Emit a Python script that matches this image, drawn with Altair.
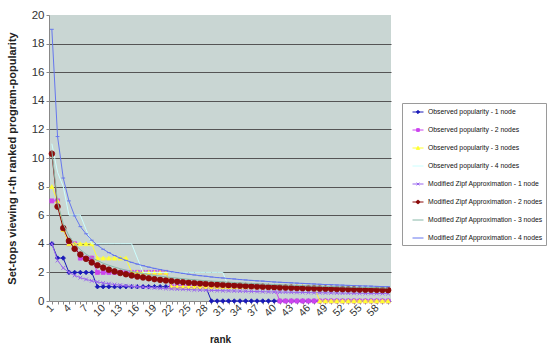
import altair as alt
import pandas as pd

ranks = list(range(1, 61))

obs_1 = [4, 3, 3, 2, 2, 2, 2, 2, 1, 1, 1, 1, 1, 1, 1, 1, 1, 1, 1, 1,
         1, 1, 1, 1, 1, 1, 1, 1, 0, 0, 0, 0, 0, 0, 0, 0, 0, 0, 0, 0,
         0, 0, 0, 0, 0, 0, 0, 0, 0, 0, 0, 0, 0, 0, 0, 0, 0, 0, 0, 0]
obs_2 = [7, 7, 5, 4, 4, 3, 3, 3, 2, 2, 2, 2, 2, 2, 2, 2, 2, 2, 2, 2,
         2, 1, 1, 1, 1, 1, 1, 1, 1, 1, 1, 1, 1, 1, 1, 1, 1, 1, 1, 1,
         0, 0, 0, 0, 0, 0, 0, 0, 0, 0, 0, 0, 0, 0, 0, 0, 0, 0, 0, 0]
obs_3 = [8, 7, 5, 4, 4, 4, 4, 4, 3, 3, 3, 3, 3, 3, 2, 2, 2, 2, 2, 2,
         2, 1, 1, 1, 1, 1, 1, 1, 1, 1, 1, 1, 1, 1, 1, 1, 1, 1, 1, 1,
         1, 1, 1, 1, 1, 1, 1, 0, 0, 0, 0, 0, 0, 0, 0, 0, 0, 0, 0, 0]
obs_4 = [11, 9, 8, 6, 6, 6, 5, 4, 4, 4, 4, 4, 4, 4, 4, 3, 2, 2, 2, 2,
         2, 2, 2, 2, 2, 2, 2, 2, 2, 2, 2, 1, 1, 1, 1, 1, 1, 1, 1, 1,
         1, 1, 1, 1, 1, 1, 1, 1, 1, 1, 1, 1, 1, 1, 1, 1, 1, 1, 1, 1]
zipf_1 = [4.0, 2.83, 2.31, 2.0, 1.79, 1.63, 1.51, 1.41, 1.33, 1.26,
          1.21, 1.15, 1.11, 1.07, 1.03, 1.0, 0.97, 0.94, 0.92, 0.89,
          0.87, 0.85, 0.83, 0.82, 0.8, 0.78, 0.77, 0.76, 0.74, 0.73,
          0.72, 0.71, 0.7, 0.69, 0.68, 0.67, 0.66, 0.65, 0.64, 0.63,
          0.62, 0.62, 0.61, 0.6, 0.6, 0.59, 0.58, 0.58, 0.57, 0.57,
          0.56, 0.55, 0.55, 0.54, 0.54, 0.53, 0.53, 0.53, 0.52, 0.52]
zipf_2 = [10.3, 6.6, 5.1, 4.2, 3.65, 3.25, 2.95, 2.7, 2.5, 2.33,
          2.19, 2.07, 1.96, 1.87, 1.79, 1.71, 1.65, 1.59, 1.53, 1.48,
          1.44, 1.4, 1.36, 1.32, 1.29, 1.26, 1.23, 1.2, 1.17, 1.15,
          1.13, 1.11, 1.09, 1.07, 1.05, 1.03, 1.01, 1.0, 0.98, 0.97,
          0.95, 0.94, 0.93, 0.91, 0.9, 0.89, 0.88, 0.87, 0.86, 0.85,
          0.84, 0.83, 0.82, 0.81, 0.8, 0.79, 0.79, 0.78, 0.77, 0.76]
zipf_3 = [10.5, 6.9, 5.4, 4.55, 3.99, 3.59, 3.28, 3.03, 2.83, 2.64,
          2.5, 2.37, 2.26, 2.16, 2.07, 1.99, 1.92, 1.85, 1.79, 1.74,
          1.69, 1.64, 1.6, 1.56, 1.52, 1.49, 1.45, 1.42, 1.39, 1.37,
          1.34, 1.32, 1.29, 1.27, 1.25, 1.23, 1.21, 1.19, 1.17, 1.15,
          1.14, 1.12, 1.11, 1.09, 1.08, 1.06, 1.05, 1.04, 1.02, 1.01,
          1.0, 0.99, 0.98, 0.97, 0.96, 0.95, 0.94, 0.93, 0.92, 0.91]
zipf_4 = [19.0, 11.5, 8.6, 7.0, 5.95, 5.2, 4.7, 4.25, 3.9, 3.62,
          3.38, 3.18, 3.0, 2.84, 2.7, 2.58, 2.47, 2.37, 2.28, 2.2,
          2.12, 2.05, 1.99, 1.93, 1.87, 1.82, 1.77, 1.73, 1.68, 1.64,
          1.61, 1.57, 1.54, 1.5, 1.47, 1.44, 1.41, 1.39, 1.36, 1.33,
          1.31, 1.29, 1.27, 1.25, 1.23, 1.21, 1.19, 1.17, 1.15, 1.14,
          1.12, 1.11, 1.09, 1.08, 1.06, 1.05, 1.04, 1.02, 1.01, 1.0]

series_names = [
    "Observed popularity - 1 node",
    "Observed popularity - 2 nodes",
    "Observed popularity - 3 nodes",
    "Observed popularity - 4 nodes",
    "Modified Zipf Approximation - 1 node",
    "Modified Zipf Approximation - 2 nodes",
    "Modified Zipf Approximation - 3 nodes",
    "Modified Zipf Approximation - 4 nodes",
]
series_values = [obs_1, obs_2, obs_3, obs_4, zipf_1, zipf_2, zipf_3, zipf_4]
colors = ["#1a1ab8", "#cc44ee", "#ffff33", "#ccffff",
          "#9966ee", "#8b0a0a", "#88b8a8", "#6677ee"]

X_PATH = "M-1,-1L1,1M-1,1L1,-1"
marker_shapes = ["diamond", "square", "triangle-up", None,
                 X_PATH, "circle", None, "stroke"]
marker_sizes = [20, 16, 20, 0, 14, 32, 0, 14]
marker_filled = [True, True, True, True, False, True, True, False]

legend_paths = [
    "M-1,0H1M0,-0.3L0.3,0L0,0.3L-0.3,0Z",
    "M-1,0H1M-0.25,-0.25H0.25V0.25H-0.25Z",
    "M-1,0H1M0,-0.3L0.3,0.25H-0.3Z",
    "M-1,0H1",
    "M-1,0H1M-0.25,-0.25L0.25,0.25M-0.25,0.25L0.25,-0.25",
    "M-1,0H1M-0.3,0A0.3,0.3 0 1,0 0.3,0A0.3,0.3 0 1,0 -0.3,0Z",
    "M-1,0H1",
    "M-1,0H1",
]

frames = []
for name, vals in zip(series_names, series_values):
    frames.append(pd.DataFrame({"series": name, "rank": ranks, "value": vals}))
df = pd.concat(frames, ignore_index=True)

x_enc = alt.X(
    "rank:Q",
    scale=alt.Scale(domain=[0.5, 60.5], nice=False, zero=False),
    axis=alt.Axis(
        title="rank", values=ranks,
        labelExpr="(datum.value - 1) % 3 == 0 ? datum.label : ''",
        labelAngle=-45, labelAlign="right", labelBaseline="middle",
        labelFont="Liberation Sans", labelFontSize=10.5, labelColor="#333333",
        labelOverlap=False, labelFlush=False, labelPadding=2,
        tickSize=3, tickColor="#888888", domainColor="#888888", grid=False,
        titleFont="Liberation Sans", titleFontSize=10, titleFontWeight="bold",
        titleColor="#222222", titleY=38, titleBaseline="middle",
    ),
)
y_enc = alt.Y(
    "value:Q",
    scale=alt.Scale(domain=[0, 20], nice=False),
    axis=alt.Axis(
        title="Set-tops viewing r-th ranked program-popularity",
        values=[0, 2, 4, 6, 8, 10, 12, 14, 16, 18, 20],
        labelFont="Liberation Sans", labelFontSize=11.5, labelColor="#333333",
        labelPadding=2, tickSize=3, tickColor="#888888", domainColor="#888888",
        grid=True, gridColor="#555555", gridWidth=1,
        gridOpacity={"condition": {"test": "datum.value == 0 || datum.value == 20", "value": 0}, "value": 1},
        titleFont="Liberation Sans", titleFontSize=11, titleFontWeight="bold",
        titleColor="#222222", titleX=-37, titleY=143, titleAngle=-90,
        titleAlign="center", titleBaseline="middle",
    ),
)

layers = []
for i, name in enumerate(series_names):
    sub = alt.Chart(df).transform_filter(alt.datum.series == name)
    layers.append(
        sub.mark_line(color=colors[i], strokeWidth=1).encode(x=x_enc, y=y_enc)
    )
    if marker_shapes[i] is not None:
        if marker_filled[i]:
            pm = sub.mark_point(shape=marker_shapes[i], size=marker_sizes[i],
                                filled=True, fill=colors[i], stroke=colors[i],
                                strokeWidth=0.8, opacity=1)
        else:
            pm = sub.mark_point(shape=marker_shapes[i], size=marker_sizes[i],
                                filled=False, stroke=colors[i], strokeWidth=1,
                                opacity=1)
        layers.append(pm.encode(x=x_enc, y=y_enc))

legend_def = alt.Legend(
    title=None, orient="none", legendX=353, legendY=88,
    fillColor="white", strokeColor="#9a9a9a", padding=3,
    labelFont="Liberation Sans", labelFontSize=6.8, labelColor="#111111",
    symbolSize=121, symbolStrokeWidth=1, symbolOffset=7, rowPadding=8,
    labelOffset=4, labelLimit=300,
)
legend_df = pd.DataFrame({"series": series_names, "rank": [1] * 8, "value": [0] * 8})
legend_layer = alt.Chart(legend_df).transform_filter("datum.rank < 0").mark_point(
    filled=True, size=121, strokeWidth=1, opacity=1
).encode(
    x=x_enc, y=y_enc,
    fill=alt.Fill("series:N", scale=alt.Scale(domain=series_names, range=colors), legend=legend_def),
    stroke=alt.Stroke("series:N", scale=alt.Scale(domain=series_names, range=colors), legend=legend_def),
    shape=alt.Shape("series:N", scale=alt.Scale(domain=series_names, range=legend_paths), legend=legend_def),
)
layers.append(legend_layer)

chart = alt.layer(*layers).properties(
    width=342, height=286,
    autosize=alt.AutoSizeParams(type="none"),
    padding={"left": 49, "top": 15, "right": 159, "bottom": 53},
    background="white",
).configure_view(fill="#c9d6d3", stroke=None)

chart.save("out.html", embed_options={"renderer": "svg", "actions": False})
